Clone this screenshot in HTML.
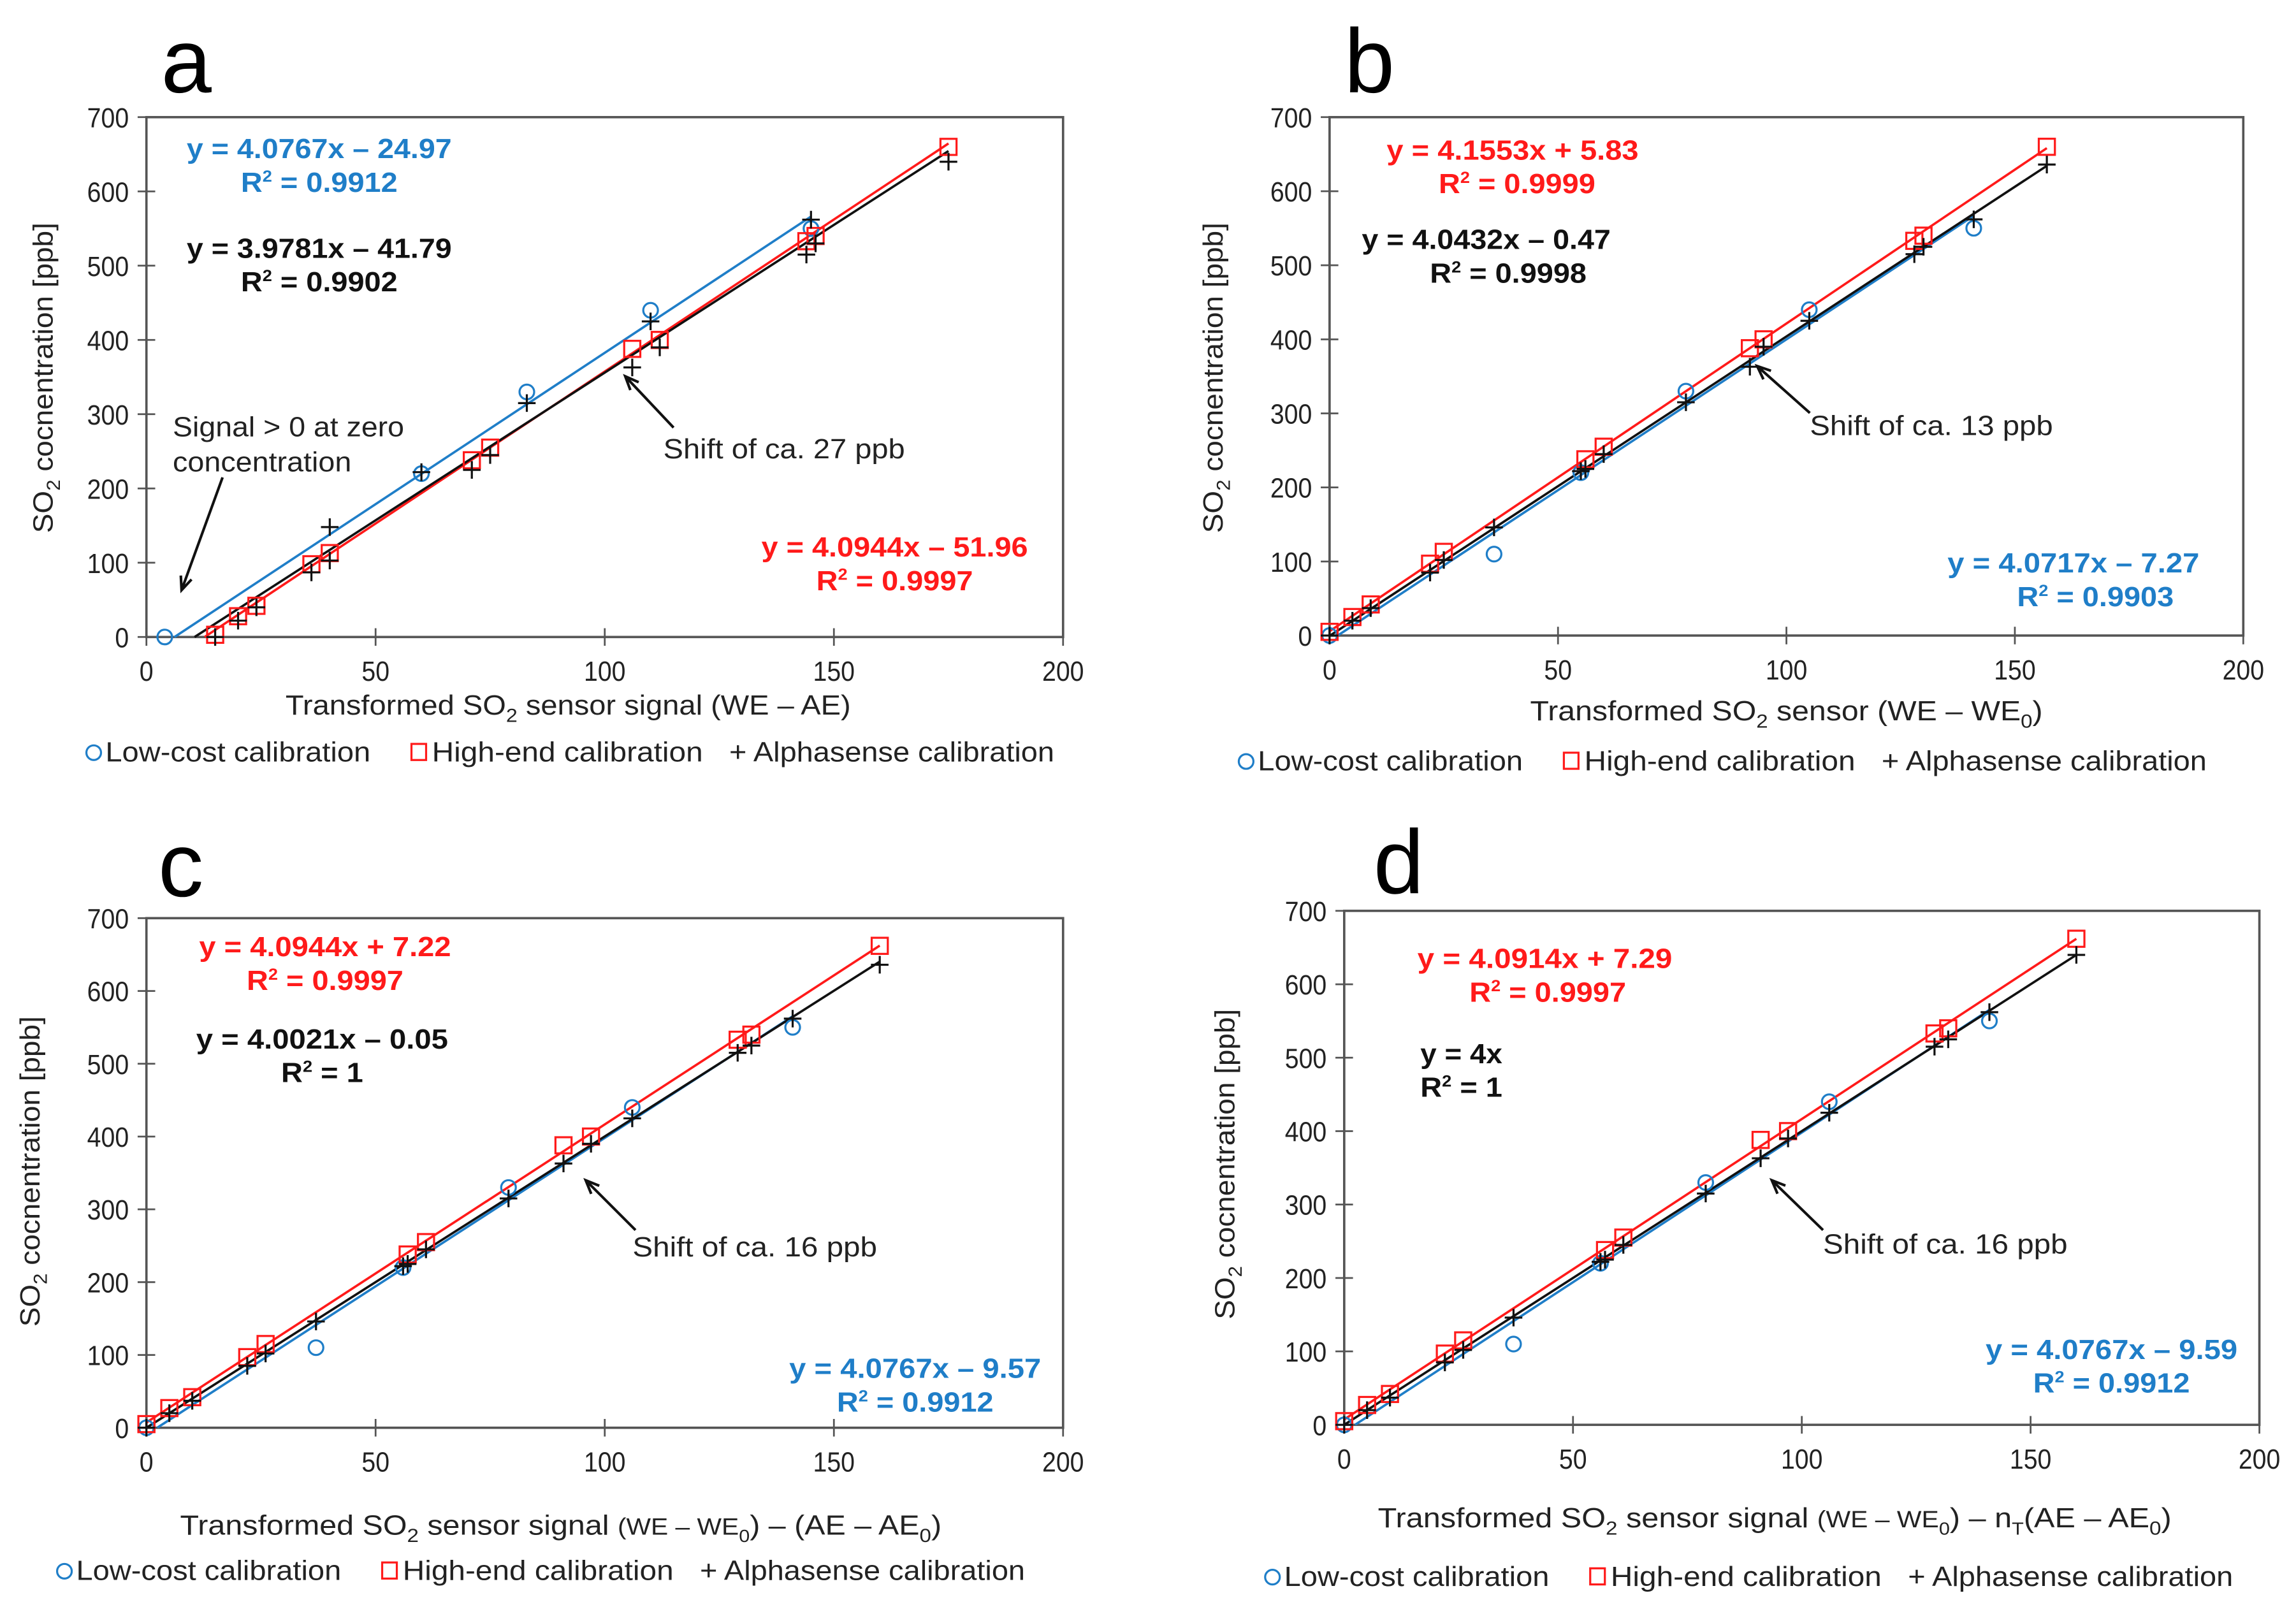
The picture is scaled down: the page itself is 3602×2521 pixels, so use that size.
<!DOCTYPE html>
<html><head><meta charset="utf-8"><style>
html,body{margin:0;padding:0;background:#fff;}
svg{display:block;font-family:"Liberation Sans",sans-serif;}
</style></head>
<body>
<svg id="fig" width="3602" height="2521" viewBox="0 0 1568 1097.4" xmlns="http://www.w3.org/2000/svg"></svg>
<script>
// ---------- data ----------
const aBlueX=[4,60,83,110,145];
const aBlueY=[0,220,330,440,550];
const aRedX=[15,20,24,36,40,71,75,106,112,144,146,175];
const aRedY=[3,28,42,98,113,238,255,388,400,533,540,660];
const aBlackX=[15,20,24,36,40,40,60,71,75,83,106,110,112,144,145,146,175];
const aBlackY=[0,22,40,87,148,103,222,225,245,315,363,425,390,515,562,530,640];
const aLines=[[4.0767,-24.97,6.1,145],[4.0944,-51.96,12.7,175],[3.9781,-41.79,10.5,175]];

const bBlueX=[0,36,55,78,105,141];
const bBlueY=[0,110,220,330,440,550];
const bRedX=[0,5,9,22,25,56,60,92,95,128,130,157];
const bRedY=[5,25,42,97,113,238,255,388,400,533,540,660];
const bBlackX=[0,5,9,22,25,36,55,56,60,78,92,95,105,128,130,141,157];
const bBlackY=[0,20,37,85,102,146,222,225,245,315,363,390,425,515,525,562,636];
const bLines=[[4.0717,-7.27,1.8,141],[4.1553,5.83,0,157],[4.0432,-0.47,0.2,157]];

const cBlueX=[0,37,56,79,106,141];
const cBlueY=[0,110,220,330,440,550];
const cRedX=[0,5,10,22,26,57,61,91,97,129,132,160];
const cRedY=[5,27,42,97,115,238,255,388,400,533,540,662];
const cBlackX=[0,5,10,22,26,37,56,57,61,79,91,97,106,129,132,141,160];
const cBlackY=[0,20,37,85,102,146,222,225,245,315,363,390,425,515,525,562,636];
const cLines=[[4.0767,-9.57,2.4,141],[4.0944,7.22,0,160],[4.0021,-0.05,0,160]];

const dBlueX=[0,37,56,79,106,141];
const dBlueY=[0,110,220,330,440,550];
const dRedX=[0,5,10,22,26,57,61,91,97,129,132,160];
const dRedY=[5,27,42,97,115,238,255,388,400,533,540,662];
const dBlackX=[0,5,10,22,26,37,56,57,61,79,91,97,106,129,132,141,160];
const dBlackY=[0,20,37,85,102,146,222,225,245,315,363,390,425,515,525,562,640];
const dLines=[[4.0767,-9.59,2.4,141],[4.0914,7.29,0,160],[4,0,0,160]];

const xTicks=[0,50,100,150,200];
const yTicks=[0,100,200,300,400,500,600,700];

// ---------- drawing ----------
const NS="http://www.w3.org/2000/svg";
const svg=document.getElementById('fig');
const BLUE="#1f7ec8",RED="#ff1a1a",BLK="#111";
function mk(tag,attrs,parent){const e=document.createElementNS(NS,tag);for(const k in attrs)e.setAttribute(k,attrs[k]);(parent||svg).appendChild(e);return e;}
function txt(x,y,s,size,opts,parent){opts=opts||{};const t=mk('text',{x:x,y:y,'font-size':size,fill:opts.fill||'#222','text-anchor':opts.anchor||'start','font-weight':opts.bold?'bold':'normal'},parent);
 if(opts.len){t.setAttribute('textLength',opts.len);t.setAttribute('lengthAdjust','spacingAndGlyphs');}
 if(opts.html)t.innerHTML=s;else t.textContent=s;return t;}

function panel(P){
 const g=mk('g',{});
 
 
 const X=v=>P.x0+(P.x1-P.x0)*v/200, Y=v=>P.y0+(P.y1-P.y0)*v/700;
 const lab=txt(P.lx,P.ly,P.id,62,{fill:'#000'},g);
 
 
 const box=mk('rect',{x:P.x0,y:P.y1,width:P.x1-P.x0,height:P.y0-P.y1,fill:'none',stroke:'#555','stroke-width':1.6},g);
 
 
 xTicks.forEach(v=>{mk('line',{x1:X(v),x2:X(v),y1:P.y0-6,y2:P.y0+6,stroke:'#555','stroke-width':1.2},g);
  const t=txt(X(v),P.y0+30,String(v),19,{anchor:'middle',len:String(v).length*9.5},g);
  
  });
 yTicks.forEach(v=>{mk('line',{x1:P.x0-6,x2:P.x0+6,y1:Y(v),y2:Y(v),stroke:'#555','stroke-width':1.2},g);
  const t=txt(P.x0-12,Y(v)+7,String(v),19,{anchor:'end',len:String(v).length*9.5},g);
  
  });
 const cols=[BLUE,RED,BLK];const names=['low-cost-fit-line','high-end-fit-line','alphasense-fit-line'];
 P.lines.forEach((L,i)=>{const l=mk('line',{x1:X(L[2]),y1:Y(L[0]*L[2]+L[1]),x2:X(L[3]),y2:Y(L[0]*L[3]+L[1]),stroke:cols[i],'stroke-width':1.6},g);
  
  });
 P.bx.forEach((v,i)=>{const c=mk('circle',{cx:X(v),cy:Y(P.by[i]),r:5,fill:'none',stroke:BLUE,'stroke-width':1.4},g);
  
  });
 P.rx.forEach((v,i)=>{const c=mk('rect',{x:X(v)-5.5,y:Y(P.ry[i])-5.5,width:11,height:11,fill:'none',stroke:RED,'stroke-width':1.4},g);
  
  });
 P.kx.forEach((v,i)=>{const cx=X(v),cy=Y(P.ky[i]);const c=mk('path',{d:`M${cx-6} ${cy}H${cx+6}M${cx} ${cy-6}V${cy+6}`,stroke:BLK,'stroke-width':1.4},g);
  
  });
 P.eqs.forEach(E=>{const t=txt(E[0],E[1],E[2],19,{anchor:E[5]||'middle',bold:true,fill:E[3],len:E[4],html:true},g);
  
  });
 P.notes.forEach(N=>{const t=txt(N[0],N[1],N[2],19,{len:N[3]},g);
  
  });
 P.arrows.forEach(A=>{const [x1,y1,x2,y2]=A;const ang=Math.atan2(y2-y1,x2-x1),h=10;
  const a=mk('path',{d:`M${x1} ${y1}L${x2} ${y2}M${x2-h*Math.cos(ang-0.4)} ${y2-h*Math.sin(ang-0.4)}L${x2} ${y2}L${x2-h*Math.cos(ang+0.4)} ${y2-h*Math.sin(ang+0.4)}`,stroke:'#111','stroke-width':1.8,fill:'none'},g);
  
  });
 const xt=txt(P.xtx,P.xty,P.xtitle,19,{anchor:'middle',len:P.xtlen,html:true},g);
 
 
 const yt=txt(0,0,'SO<tspan font-size="13" dy="5">2</tspan><tspan dy="-5"> cocnentration [ppb]</tspan>',19,{anchor:'middle',html:true,len:212},g);
 yt.setAttribute('transform',`translate(${P.ytx},${P.yty}) rotate(-90)`);
 
 
 const L=P.leg;
 const lc=mk('circle',{cx:L[0]+5,cy:L[1]-6,r:5,fill:'none',stroke:BLUE,'stroke-width':1.4},g);
 
 
 const l1=txt(L[0]+13,L[1],'Low-cost calibration',19,{len:181},g);
 
 
 const lr=mk('rect',{x:L[0]+222,y:L[1]-12,width:10,height:11,fill:'none',stroke:RED,'stroke-width':1.4},g);
 
 
 const l2=txt(L[0]+236,L[1],'High-end calibration',19,{len:185},g);
 
 
 const l3=txt(L[0]+439,L[1],'+ Alphasense calibration',19,{len:222},g);
 
 
}

const R2='R<tspan font-size="11" dy="-7">2</tspan><tspan dy="7"> = ';
panel({id:'a',x0:100,x1:726,y0:435,y1:80,lx:110,ly:63,bx:aBlueX,by:aBlueY,rx:aRedX,ry:aRedY,kx:aBlackX,ky:aBlackY,lines:aLines,
 eqs:[[218,108,'y = 4.0767x – 24.97',BLUE,181],[218,131,R2+'0.9912</tspan>',BLUE,107],
      [218,176,'y = 3.9781x – 41.79',BLK,181],[218,199,R2+'0.9902</tspan>',BLK,107],
      [611,380,'y = 4.0944x – 51.96',RED,182],[611,403,R2+'0.9997</tspan>',RED,107]],
 notes:[[118,298,'Signal > 0 at zero',158],[118,322,'concentration',122],[453,313,'Shift of ca. 27 ppb',165]],
 arrows:[[152,326,124,403],[460,292,427,257]],
 xtx:388,xty:488,xtitle:'Transformed SO<tspan font-size="13" dy="5">2</tspan><tspan dy="-5"> sensor signal (WE – AE)</tspan>',xtlen:386,
 ytx:36,yty:258,leg:[59,520]});
panel({id:'b',x0:908,x1:1532,y0:434,y1:80,lx:918,ly:63,bx:bBlueX,by:bBlueY,rx:bRedX,ry:bRedY,kx:bBlackX,ky:bBlackY,lines:bLines,
 eqs:[[1033,109,'y = 4.1553x + 5.83',RED,172],[1036,132,R2+'0.9999</tspan>',RED,107],
      [1015,170,'y = 4.0432x – 0.47',BLK,170],[1030,193,R2+'0.9998</tspan>',BLK,107],
      [1416,391,'y = 4.0717x – 7.27',BLUE,172],[1431,414,R2+'0.9903</tspan>',BLUE,107]],
 notes:[[1236,297,'Shift of ca. 13 ppb',166]],
 arrows:[[1236,282,1200,250]],
 xtx:1220,xty:492,xtitle:'Transformed SO<tspan font-size="13" dy="5">2</tspan><tspan dy="-5"> sensor  (WE – WE</tspan><tspan font-size="13" dy="5">0</tspan><tspan dy="-5">)</tspan>',xtlen:350,
 ytx:835,yty:258,leg:[846,526]});
panel({id:'c',x0:100,x1:726,y0:975,y1:627,lx:108,ly:612,bx:cBlueX,by:cBlueY,rx:cRedX,ry:cRedY,kx:cBlackX,ky:cBlackY,lines:cLines,
 eqs:[[222,653,'y = 4.0944x + 7.22',RED,172],[222,676,R2+'0.9997</tspan>',RED,107],
      [220,716,'y = 4.0021x – 0.05',BLK,172],[220,739,'R<tspan font-size="11" dy="-7">2</tspan><tspan dy="7"> = 1</tspan>',BLK,56],
      [625,941,'y = 4.0767x – 9.57',BLUE,172],[625,964,R2+'0.9912</tspan>',BLUE,107]],
 notes:[[432,858,'Shift of ca. 16 ppb',167]],
 arrows:[[434,840,400,806]],
 xtx:383,xty:1048,xtitle:'Transformed SO<tspan font-size="13" dy="5">2</tspan><tspan dy="-5"> sensor signal </tspan><tspan font-size="16">(WE – WE</tspan><tspan font-size="12" dy="5">0</tspan><tspan dy="-5">) –  (AE – AE</tspan><tspan font-size="13" dy="5">0</tspan><tspan dy="-5">)</tspan>',xtlen:520,
 ytx:27,yty:800,leg:[39,1079]});
panel({id:'d',x0:918,x1:1543,y0:973,y1:622,lx:938,ly:610,bx:dBlueX,by:dBlueY,rx:dRedX,ry:dRedY,kx:dBlackX,ky:dBlackY,lines:dLines,
 eqs:[[1055,661,'y = 4.0914x + 7.29',RED,174],[1057,684,R2+'0.9997</tspan>',RED,107],
      [970,726,'y = 4x',BLK,56,'start'],[970,749,'R<tspan font-size="11" dy="-7">2</tspan><tspan dy="7"> = 1</tspan>',BLK,56,'start'],
      [1442,928,'y = 4.0767x – 9.59',BLUE,172],[1442,951,R2+'0.9912</tspan>',BLUE,107]],
 notes:[[1245,856,'Shift of ca. 16 ppb',167]],
 arrows:[[1245,840,1210,806]],
 xtx:1212,xty:1043,xtitle:'Transformed SO<tspan font-size="13" dy="5">2</tspan><tspan dy="-5"> sensor signal </tspan><tspan font-size="16">(WE – WE</tspan><tspan font-size="12" dy="5">0</tspan><tspan dy="-5">) –  n</tspan><tspan font-size="12" dy="5">T</tspan><tspan dy="-5">(AE – AE</tspan><tspan font-size="13" dy="5">0</tspan><tspan dy="-5">)</tspan>',xtlen:542,
 ytx:843,yty:795,leg:[864,1083]});
</script>
</body></html>
